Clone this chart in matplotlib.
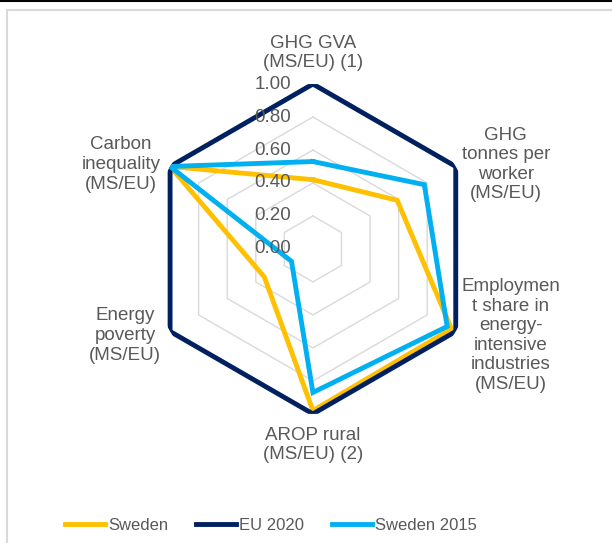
import numpy as np
import matplotlib
matplotlib.use("Agg")
import matplotlib.pyplot as plt
from matplotlib.patches import Rectangle
from matplotlib.lines import Line2D

plt.rcParams['font.family'] = ['Liberation Sans', 'DejaVu Sans']

categories = ['GHG GVA\n(MS/EU) (1)', 'GHG\ntonnes per\nworker\n(MS/EU)',
              'Employmen\nt share in\nenergy-\nintensive\nindustries\n(MS/EU)',
              'AROP rural\n(MS/EU) (2)', 'Energy\npoverty\n(MS/EU)',
              'Carbon\ninequality\n(MS/EU)']
sweden = [0.42, 0.59, 0.97, 0.98, 0.34, 1.00]
eu_2020 = [1.00, 1.00, 1.00, 1.00, 1.00, 1.00]
sweden_2015 = [0.53, 0.78, 0.94, 0.87, 0.15, 1.00]
r_ticks = [0.0, 0.2, 0.4, 0.6, 0.8, 1.0]

series = [('Sweden', sweden, '#FFC000'),
          ('EU 2020', eu_2020, '#002060'),
          ('Sweden 2015', sweden_2015, '#00B0F0')]

txt = '#595959'
fs = 13.5

fig = plt.figure(figsize=(6.12, 5.43), dpi=100)
# chart border like the spreadsheet frame
fig.patches.append(Rectangle((7 / 612, -0.1), 1.2, 1 - 9.5 / 543 + 0.1, transform=fig.transFigure,
                             fill=False, edgecolor='#D9D9D9', lw=1.5))
fig.add_artist(Line2D([0, 1], [1 - 0.5 / 543, 1 - 0.5 / 543], color='black', lw=1.5))

ax = fig.add_axes([0.2418, 0.2375, 0.539, 0.608], projection='polar')
ax.set_theta_zero_location('N')
ax.set_theta_direction(-1)
ax.set_ylim(0, 1)
ax.grid(False)
ax.spines['polar'].set_visible(False)
ax.set_xticks([])
ax.set_yticks([])

n = len(categories)
angles = np.linspace(0, 2 * np.pi, n, endpoint=False)
closed = np.append(angles, angles[0])

# hexagon gridlines
for r in r_ticks[1:]:
    ax.plot(closed, [r] * (n + 1), color='#D9D9D9', lw=1, zorder=1)

for name, vals, col in series:
    ax.plot(closed, vals + vals[:1], color=col, lw=3.5, label=name,
            solid_joinstyle='miter', zorder=3)

# radial tick labels
for r in r_ticks:
    ax.annotate(f'{r:.2f}', xy=(0, r), xytext=(-22, 0), textcoords='offset pixels',
                ha='right', va='center', color=txt, fontsize=fs, zorder=4)

offsets = [(0, 31), (50, 2), (55, -4), (0, -31), (-45, -4), (-49, 2)]
for a, lab, (dx, dy) in zip(angles, categories, offsets):
    ax.annotate(lab, xy=(a, 1.0), xytext=(dx, dy), textcoords='offset pixels',
                ha='center', va='center', multialignment='center', color=txt,
                fontsize=fs, linespacing=1.2)

handles, labels = ax.get_legend_handles_labels()
fig.legend(handles, labels, loc='center', bbox_to_anchor=(271 / 612, 18 / 543), ncol=3,
           frameon=False, fontsize=12, handlelength=2.4, handletextpad=0.15,
           columnspacing=1.7, labelcolor=txt)

fig.savefig('out.png', dpi=100)
